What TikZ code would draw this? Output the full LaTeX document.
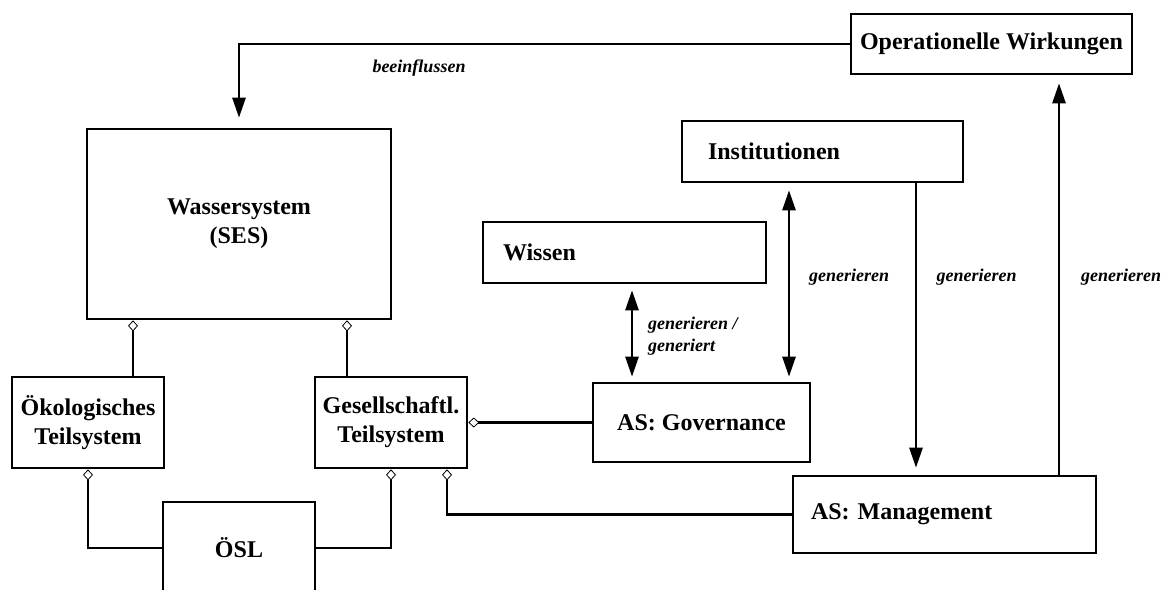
\documentclass[tikz,border=0pt]{standalone}
\usepackage{fontspec}
\setmainfont{Liberation Serif}
\usetikzlibrary{arrows.meta}
\begin{document}
\begin{tikzpicture}[x=1pt,y=-1pt,
  box/.style={draw, line width=2.6pt, fill=white, font=\bfseries\fontsize{24}{29}\selectfont, inner sep=0pt, align=center},
  lbox/.style={box, align=left},
  lab/.style={font=\bfseries\itshape\fontsize{18}{22}\selectfont, inner sep=0pt, align=left},
  arr/.style={line width=2.6pt, -{Triangle[length=20pt,width=13pt]}},
  dbl/.style={line width=2.6pt, {Triangle[length=20pt,width=13pt]}-{Triangle[length=20pt,width=13pt]}},
  agg/.style={line width=2.6pt, -{Diamond[fill=white,length=11pt,width=10pt,line width=0.8pt]}}
]
\useasboundingbox (0,0) rectangle (1169,589);
\clip (0,0) rectangle (1169,589);
% boxes
\node[box, minimum width=281pt, minimum height=60pt] (ow) at (991.5,44) {Operationelle Wirkungen};
\node[lbox, text width=229pt, inner xsep=26pt, minimum height=61pt] (inst) at (822.5,151.5) {Institutionen};
\node[lbox, text width=243pt, inner xsep=20pt, minimum height=61pt] (wissen) at (624.5,252.5) {Wissen};
\node[box, minimum width=304pt, minimum height=190pt] (wasser) at (239,224) {Wassersystem\\(SES)};
\node[box, minimum width=152pt, minimum height=91pt] (oeko) at (88,422.5) {Ökologisches\\Teilsystem};
\node[box, minimum width=152pt, minimum height=91pt] (ges) at (391,422.5) {Gesellschaftl.\\Teilsystem};
\node[box, minimum width=152pt, minimum height=92pt] (oesl) at (239,548) {ÖSL};
\node[box, minimum width=217pt, minimum height=79pt] (gov) at (701.5,422.5) {AS: Governance};
\node[lbox, text width=267pt, inner xsep=18pt, minimum height=77pt] (mgmt) at (944.5,514.5) {AS: Management};
% helper x positions
\coordinate (xw) at (632,0);
\coordinate (xi) at (789,0);
\coordinate (xm) at (916,0);
\coordinate (xo) at (1059,0);
\coordinate (xa) at (133,0);
\coordinate (xb) at (347,0);
\coordinate (xc) at (447,0);
% arrows
\draw[arr, shorten >=10pt] (ow.west) -| (wasser.north);
\node[lab] (lbeein) at (419,68) {beeinflussen};
\draw[dbl, shorten <=6pt, shorten >=5pt] (wissen.south -| xw) -- (gov.north -| xw);
\node[lab, anchor=west] (lgen1) at (648,336) {generieren /\\generiert};
\draw[dbl, shorten <=7pt, shorten >=5pt] (inst.south -| xi) -- (gov.north -| xi);
\node[lab] (lgen2) at (849,277) {generieren};
\draw[arr, shorten >=7pt] (inst.south -| xm) -- (mgmt.north -| xm);
\node[lab] (lgen3) at (976.5,277) {generieren};
\draw[arr, shorten >=8pt] (mgmt.north -| xo) -- (ow.south -| xo);
\node[lab] (lgen4) at (1121,277) {generieren};
% aggregation connectors
\draw[agg] (oeko.north -| xa) -- (wasser.south -| xa);
\draw[agg] (ges.north -| xb) -- (wasser.south -| xb);
\draw[agg] (oesl.west) -| (oeko.south);
\draw[agg] (oesl.east) -| (ges.south);
\draw[agg] (mgmt.west) -| (ges.south -| xc);
\draw[agg] (gov.west) -- (ges.east);
\end{tikzpicture}
\end{document}
